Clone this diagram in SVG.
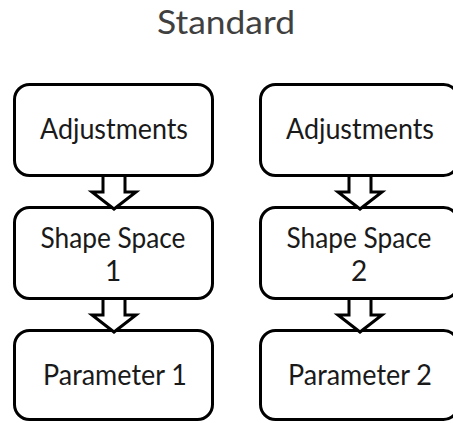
<svg xmlns="http://www.w3.org/2000/svg" width="453" height="423" viewBox="0 0 453 423">
<style>
.box{fill:#fff;stroke:#000;stroke-width:3}
.arr{fill:#fff;stroke:#000;stroke-width:3;stroke-linejoin:miter}
.t{font-family:Lato,"Liberation Sans",sans-serif;font-size:28px;fill:#1a1a1a;text-anchor:middle}
.title{font-family:Lato,"Liberation Sans",sans-serif;font-size:32px;fill:#404040;text-anchor:middle}
</style>
<rect width="453" height="423" fill="#fff"/>
<text class="title" x="226" y="34" textLength="138" lengthAdjust="spacingAndGlyphs">Standard</text>
<g id="adj1"><rect class="box" x="14.5" y="84.5" width="198" height="91" rx="15"/><text class="t" x="114" y="139" textLength="148" lengthAdjust="spacingAndGlyphs">Adjustments</text></g>
<g id="ss1"><rect class="box" x="14.5" y="207.5" width="198" height="91" rx="15"/><text class="t" x="113" y="248" textLength="145" lengthAdjust="spacingAndGlyphs">Shape Space</text><text class="t" x="113" y="281">1</text></g>
<g id="p1"><rect class="box" x="14.5" y="330.5" width="198" height="89" rx="15"/><text class="t" x="115" y="385" textLength="144" lengthAdjust="spacingAndGlyphs">Parameter 1</text></g>
<g id="adj2"><rect class="box" x="260.5" y="84.5" width="198" height="91" rx="15"/><text class="t" x="360" y="139" textLength="148" lengthAdjust="spacingAndGlyphs">Adjustments</text></g>
<g id="ss2"><rect class="box" x="260.5" y="207.5" width="198" height="91" rx="15"/><text class="t" x="359" y="248" textLength="145" lengthAdjust="spacingAndGlyphs">Shape Space</text><text class="t" x="359" y="281">2</text></g>
<g id="p2"><rect class="box" x="260.5" y="330.5" width="198" height="89" rx="15"/><text class="t" x="360" y="385" textLength="144" lengthAdjust="spacingAndGlyphs">Parameter 2</text></g>
<g id="connectors">
<polygon class="arr" points="103,175.5 103,192 92,192 114,209 136,192 125,192 125,175.5"/>
<polygon class="arr" points="103,298.5 103,315 92,315 114,332 136,315 125,315 125,298.5"/>
<polygon class="arr" points="349,175.5 349,192 338,192 360,209 382,192 371,192 371,175.5"/>
<polygon class="arr" points="349,298.5 349,315 338,315 360,332 382,315 371,315 371,298.5"/>
</g>
</svg>
